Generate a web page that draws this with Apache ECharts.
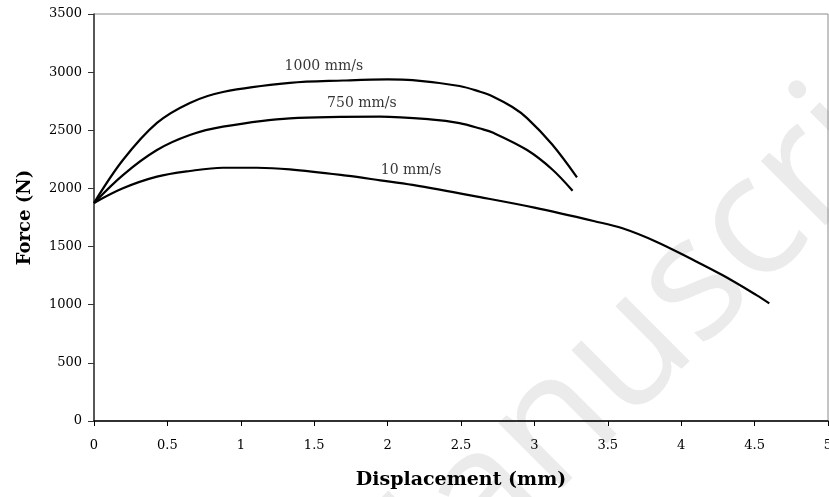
<!DOCTYPE html>
<html>
<head>
<meta charset="utf-8">
<script src="https://cdn.jsdelivr.net/npm/echarts@6/dist/echarts.min.js"></script>
<style>
html,body{margin:0;padding:0;background:#fff;}
#c{width:829px;height:497px;}
</style>
</head>
<body>
<div id="c"></div>
<script>
// Data (displacement mm, force N)
const s1000 = [[0,1875],[0.197,2244],[0.429,2563],[0.653,2735],[0.878,2829],[1.334,2907],[1.7,2928],[2.0,2938],[2.17,2932],[2.49,2881],[2.63,2831],[2.72,2789],[2.85,2700],[2.95,2605],[3.12,2380],[3.29,2096]];
const s750 = [[0,1875],[0.197,2115],[0.429,2330],[0.653,2459],[0.878,2531],[1.334,2603],[1.95,2617],[2.29,2594],[2.49,2562],[2.63,2515],[2.72,2478],[2.95,2330],[3.12,2165],[3.26,1980]];
const s10 = [[0,1875],[0.197,2001],[0.429,2101],[0.653,2150],[0.878,2178],[1.11,2178],[1.334,2164],[1.72,2110],[1.95,2070],[2.17,2030],[2.63,1925],[3.0,1835],[3.41,1718],[3.60,1657],[3.83,1542],[4.06,1399],[4.28,1255],[4.51,1085],[4.60,1012]];
const curveLabels = [[1.566,3053,'1000 mm/s'],[1.825,2730,'750 mm/s'],[2.16,2158,'10 mm/s']];
const xTitle = 'Displacement (mm)';
const yTitle = 'Force (N)';
const watermark = 'Manuscript';

const chart = echarts.init(document.getElementById('c'), null, {renderer:'canvas'});
const serif = '"DejaVu Serif", serif';
const lineStyle = {color:'#000', width:2.2};
function mkLine(d){
  return {type:'line', data:d, smooth:0.35, showSymbol:false, symbol:'none', lineStyle:lineStyle, itemStyle:{color:'#000'}, z:3, animation:false};
}
chart.setOption({
  animation:false,
  backgroundColor:'#fff',
  graphic:[{
    type:'text', x:660, y:322, rotation:Math.PI/4, z:-10,
    style:{text:watermark, font:'170px "Open Sans", sans-serif', fill:'#ebebeb', textAlign:'center', textVerticalAlign:'middle'}
  }],
  grid:{left:94, right:1, top:14, bottom:76, outerBoundsMode:'none', containLabel:false, show:true, borderColor:'#8a8a8a', borderWidth:1, backgroundColor:'transparent'},
  xAxis:{
    type:'value', min:0, max:5, interval:0.5,
    name:xTitle, nameLocation:'middle', nameGap:50,
    nameTextStyle:{fontFamily:serif, fontWeight:'bold', fontSize:19, color:'#000'},
    axisLine:{show:true, onZero:false, lineStyle:{color:'#000', width:1.5}},
    axisTick:{show:true, inside:false, length:5, lineStyle:{color:'#000'}},
    axisLabel:{fontFamily:serif, fontSize:13, color:'#000', margin:18, formatter:v=>String(v)},
    splitLine:{show:false}
  },
  yAxis:{
    type:'value', min:0, max:3500, interval:500,
    name:yTitle, nameLocation:'middle', nameGap:60, nameRotate:90,
    nameTextStyle:{fontFamily:serif, fontWeight:'bold', fontSize:18, color:'#000'},
    axisLine:{show:true, lineStyle:{color:'#333', width:1.5}},
    axisTick:{show:true, inside:false, length:6, lineStyle:{color:'#333'}},
    axisLabel:{fontFamily:serif, fontSize:13, color:'#000', margin:12, formatter:v=>String(v)},
    splitLine:{show:false}
  },
  series:[
    mkLine(s1000), mkLine(s750), mkLine(s10),
    {type:'scatter', data:curveLabels, symbol:'circle', symbolSize:1, itemStyle:{color:'rgba(0,0,0,0)'}, z:4,
     label:{show:true, position:'inside', formatter:p=>p.value[2], fontFamily:serif, fontSize:14, color:'#000'}}
  ]
});
</script>
</body>
</html>
